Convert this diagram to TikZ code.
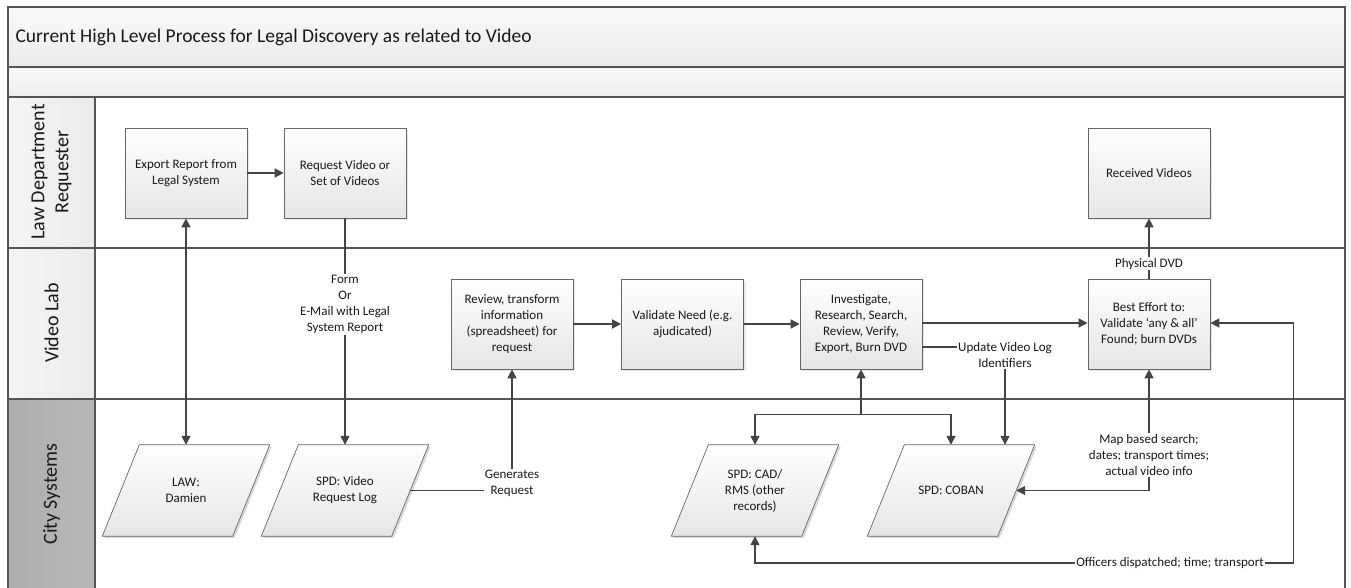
\documentclass[tikz,border=0pt]{standalone}
\usepackage{fontspec}
\setmainfont{Carlito}
\usetikzlibrary{arrows.meta,shadows,calc}
\definecolor{ln}{HTML}{444444}
\definecolor{frame}{HTML}{555555}
\pgfdeclarelayer{bg}
\pgfsetlayers{bg,main}
\begin{document}
\begin{tikzpicture}[x=1pt,y=-1pt,
  txt/.style={font=\fontsize{13}{16}\selectfont, text=black!90, align=center},
  proc/.style={txt, draw=black!60, line width=0.7pt, top color=white, bottom color=black!10,
    minimum width=122pt, minimum height=90pt, inner sep=0pt,
    drop shadow={shadow xshift=2pt, shadow yshift=-2pt, opacity=0.18}},
  dbox/.style={txt, minimum width=130pt, minimum height=91pt, inner sep=0pt},
  dshape/.style={draw=black!60, line width=0.7pt, top color=white, bottom color=black!10},
  conn/.style={draw=ln, line width=1.6pt, -{Triangle[length=9pt,width=9pt]}},
  dconn/.style={draw=ln, line width=1.6pt, {Triangle[length=9pt,width=9pt]}-{Triangle[length=9pt,width=9pt]}},
  lbl/.style={txt, fill=white, inner sep=1pt},
  lane/.style={draw=frame, line width=1.4pt},
  lanetxt/.style={font=\fontsize{20}{24}\selectfont, text=black!90, align=center, rotate=90}
]
\path[use as bounding box, clip] (0,0) rectangle (1351,588);

% title bands
\path[top color=black!2, bottom color=black!8] (8,7) rectangle (1345,67);
\path[top color=black!2, bottom color=black!7] (8,67) rectangle (1345,97);
% lane label column
\path[left color=black!4, right color=black!8] (8,97) rectangle (95,399);
\path[left color=black!32, right color=black!28] (8,399) rectangle (95,600);
% frame and lane lines
\draw[lane] (8,600) -- (8,7) -- (1345,7) -- (1345,600);
\draw[lane] (8,67) -- (1345,67);
\draw[lane] (8,97) -- (1345,97);
\draw[lane] (8,248) -- (1345,248);
\draw[lane] (8,399) -- (1345,399);
\draw[lane] (95,97) -- (95,600);

\node[font=\fontsize{19.5}{22}\selectfont, text=black!90, anchor=west] (title) at (12,37)
  {Current High Level Process for Legal Discovery as related to Video};
\node[lanetxt] (l1) at (51.5,172) {Law Department\\Requester};
\node[lanetxt] (l2) at (51.5,323) {Video Lab};
\node[lanetxt] (l3) at (51.5,494) {City Systems};

% process boxes
\node[proc] (exp)  at (186,173)   {Export Report from\\Legal System};
\node[proc] (req)  at (345,173)   {Request Video or\\Set of Videos};
\node[proc] (recv) at (1149,173)  {Received Videos};
\node[proc] (rev)  at (512,324)   {Review, transform\\information\\(spreadsheet) for\\request};
\node[proc] (val)  at (682.5,324) {Validate Need (e.g.\\ajudicated)};
\node[proc] (inv)  at (861,324)   {Investigate,\\Research, Search,\\Review, Verify,\\Export, Burn DVD};
\node[proc] (best) at (1149,324)  {Best Effort to:\\Validate ‘any \& all’\\Found; burn DVDs};

% data (parallelogram) nodes
\node[dbox] (law)   at (186,490.5) {LAW:\\Damien};
\node[dbox] (log)   at (345,490.5) {SPD: Video\\Request Log};
\node[dbox] (cad)   at (755,490.5) {SPD: CAD/\\RMS (other\\records)};
\node[dbox] (coban) at (951,490.5) {SPD: COBAN};
\begin{pgfonlayer}{bg}
\foreach \n in {law,log,cad,coban}{
  \fill[black, opacity=0.15] ($(\n.south west)+(-16.5,2)$) -- ($(\n.south east)+(-16.5,2)$)
     -- ($(\n.north east)+(20.5,2)$) -- ($(\n.north west)+(20.5,2)$) -- cycle;
  \path[dshape] ($(\n.south west)+(-18.5,0)$) -- ($(\n.south east)+(-18.5,0)$)
     -- ($(\n.north east)+(18.5,0)$) -- ($(\n.north west)+(18.5,0)$) -- cycle;
}
\end{pgfonlayer}

% connectors
\draw[conn] (exp) -- (req);
\draw[dconn] (exp.south) -- (law.north);
\draw[conn] (req.south) -- node[lbl, pos=0.38] {Form\\Or\\E-Mail with Legal\\System Report} (log.north);
\draw[conn] (log.east) -| node[lbl, pos=0.5, yshift=7pt] {Generates\\Request} (rev.south);
\draw[conn] (rev) -- (val);
\draw[conn] (val) -- (inv);
\draw[conn] ([yshift=1pt]inv.east) -- ([yshift=1pt]best.west);
\draw[conn] (best) -- node[lbl, pos=0.25] {Physical DVD} (recv);
\draw[conn] ([yshift=-23pt]inv.east) -| node[lbl, pos=0.5, yshift=-8pt] {Update Video Log\\Identifiers} ($(coban.north)+(54,0)$);
\draw[dconn] (inv.south) -- ++(0,45) -| (cad.north);
\draw[conn] ($(inv.south)+(0,45)$) -| (coban.north);
\draw[dconn] (coban.east) -| (best.south);
\node[lbl] (maplbl) at (1149,455) {Map based search;\\dates; transport times;\\actual video info};
\draw[dconn] ([yshift=1pt]best.east) -- ++(83,0) |- ($(cad.south)+(0,27)$) -- (cad.south);
\node[lbl] (offlbl) at (1170,563) {Officers dispatched; time; transport};
\end{tikzpicture}
\end{document}
